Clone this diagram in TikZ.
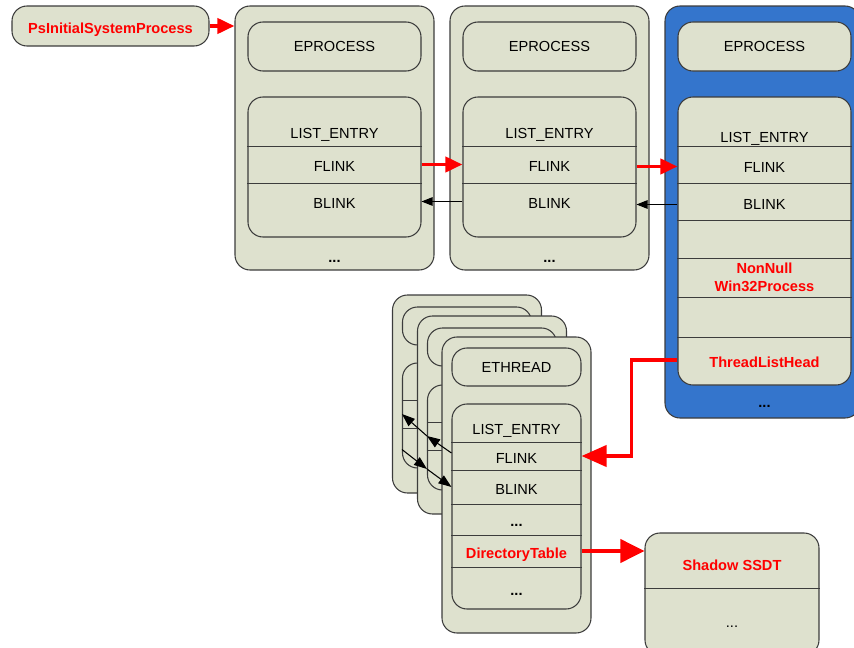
\documentclass[tikz,border=0pt]{standalone}
\usepackage{fontspec}
\setmainfont{Liberation Sans}
\usetikzlibrary{arrows.meta}
\definecolor{boxfill}{RGB}{222,225,206}
\definecolor{procblue}{RGB}{52,117,204}
\definecolor{rimgray}{RGB}{60,60,60}

\begin{document}
\begin{tikzpicture}[line width = 0.6pt, font = \fontsize{8.3}{10}\selectfont,
                    card/.style = {draw = rimgray, fill = boxfill, rounded corners = 0.3cm, inner sep = 0pt},
                    lowtext/.style = {text height = 8.1pt, text depth = 0pt},
                    field/.style = {inner sep = 0pt, minimum width = #1, lowtext},
                    hot/.style = {text = red, font = \fontsize{8.3}{10}\selectfont\bfseries},
                    redlink/.style = {draw = red, line width = 2.2pt, -{Triangle[length = 0.34cm, width = 0.3cm]}},
                    thinlink/.style = {draw = black, -{Triangle[length = 0.22cm, width = 0.17cm]}}]
      \useasboundingbox (0, 0) rectangle (17.08, -12.96);
      \clip (0, 0) rectangle (17.08, -12.96);

      \node [card, hot, lowtext, minimum width = 3.94cm, minimum height = 0.8cm] (ps) at (2.21, -0.52) {PsInitialSystemProcess};

      % first EPROCESS
      \node [card, minimum width = 3.98cm, minimum height = 5.28cm] (ep1) at (6.69, -2.76) {};
      \node [card, minimum width = 3.46cm, minimum height = 0.98cm] (hd1) at (6.69, -0.93) {EPROCESS};
      \node [card, minimum width = 3.46cm, minimum height = 2.8cm] (ls1) at (6.69, -3.34) {};
      \node [field = 3.46cm, minimum height = 0.6cm] (le1) at (6.69, -2.62) {LIST\_ENTRY};
      \node [field = 3.46cm, minimum height = 0.74cm] (fl1) at (6.69, -3.29) {FLINK};
      \node [field = 3.46cm, minimum height = 0.74cm] (bl1) at (6.69, -4.03) {BLINK};
      \draw [rimgray] (le1.south west) -- (le1.south east) (fl1.south west) -- (fl1.south east);
      \node [lowtext] (mo1) at (6.69, -5.1) {\textbf{...}};

      % second EPROCESS
      \node [card, minimum width = 3.98cm, minimum height = 5.28cm] (ep2) at (10.99, -2.76) {};
      \node [card, minimum width = 3.46cm, minimum height = 0.98cm] (hd2) at (10.99, -0.93) {EPROCESS};
      \node [card, minimum width = 3.46cm, minimum height = 2.8cm] (ls2) at (10.99, -3.34) {};
      \node [field = 3.46cm, minimum height = 0.6cm] (le2) at (10.99, -2.62) {LIST\_ENTRY};
      \node [field = 3.46cm, minimum height = 0.74cm] (fl2) at (10.99, -3.29) {FLINK};
      \node [field = 3.46cm, minimum height = 0.74cm] (bl2) at (10.99, -4.03) {BLINK};
      \draw [rimgray] (le2.south west) -- (le2.south east) (fl2.south west) -- (fl2.south east);
      \node [lowtext] (mo2) at (10.99, -5.1) {\textbf{...}};

      % third EPROCESS (the one with a Win32Process)
      \node [card, fill = procblue, minimum width = 3.9cm, minimum height = 8.24cm] (ep3) at (15.25, -4.24) {};
      \node [card, minimum width = 3.46cm, minimum height = 0.98cm] (hd3) at (15.29, -0.93) {EPROCESS};
      \node [card, minimum width = 3.46cm, minimum height = 5.76cm] (ls3) at (15.29, -4.82) {};
      \node [field = 3.46cm, minimum height = 0.48cm, text height = 9.6pt] (le3) at (15.29, -2.68) {LIST\_ENTRY};
      \node [field = 3.46cm, minimum height = 0.74cm, text height = 9.6pt] (fl3) at (15.29, -3.29) {FLINK};
      \node [field = 3.46cm, minimum height = 0.74cm, text height = 9.6pt] (bl3) at (15.29, -4.03) {BLINK};
      \node [field = 3.46cm, minimum height = 0.76cm] (em3) at (15.29, -4.78) {};
      \node [hot, inner sep = 0pt, minimum width = 3.46cm, minimum height = 0.74cm, align = center] (nn3) at (15.29, -5.55) {NonNull\\Win32Process};
      \node [field = 3.46cm, minimum height = 0.84cm] (eb3) at (15.29, -6.32) {};
      \node [field = 3.46cm, minimum height = 0.92cm, hot] (tl3) at (15.29, -7.2) {ThreadListHead};
      \draw [rimgray] (le3.south west) -- (le3.south east) (fl3.south west) -- (fl3.south east)
                      (bl3.south west) -- (bl3.south east) (em3.south west) -- (em3.south east)
                      ([yshift = -0.02cm]nn3.south west) -- ([yshift = -0.02cm]nn3.south east)
                      (eb3.south west) -- (eb3.south east);
      \node [lowtext] (mo3) at (15.29, -8.0) {\textbf{...}};

      \draw [redlink] (ps.east) -- (ps.east -| ep1.west);
      \draw [redlink] (fl1.east) -- (fl2.west);
      \draw [redlink] ([yshift = -0.04cm]fl2.east) -- ([yshift = -0.04cm]fl3.west);
      \draw [thinlink] (bl2.west) -- (bl1.east);
      \draw [thinlink] ([yshift = -0.06cm]bl3.west) -- ([yshift = -0.06cm]bl2.east);

      % ETHREAD stack, back to front
      \node [card, minimum width = 2.98cm, minimum height = 3.96cm] (thb) at (9.34, -7.88) {};
      \node [card, minimum width = 2.58cm, minimum height = 0.76cm] (hdb) at (9.34, -6.52) {};
      \node [card, minimum width = 2.58cm, minimum height = 2.1cm] (lsb) at (9.34, -8.31) {};
      \node [field = 2.58cm, minimum height = 0.6cm] (leb) at (9.34, -7.7) {};
      \node [field = 2.58cm, minimum height = 0.56cm] (flb) at (9.34, -8.28) {};
      \node [field = 2.58cm, minimum height = 0.56cm] (blb) at (9.34, -8.84) {};
      \draw [rimgray] (leb.south west) -- (leb.south east) (flb.south west) -- (flb.south east);

      \node [card, minimum width = 2.98cm, minimum height = 3.96cm] (thm) at (9.84, -8.3) {};
      \node [card, minimum width = 2.58cm, minimum height = 0.76cm] (hdm) at (9.84, -6.94) {};
      \node [card, minimum width = 2.58cm, minimum height = 2.1cm] (lsm) at (9.84, -8.75) {};
      \node [field = 2.58cm, minimum height = 0.6cm] (lem) at (9.84, -8.14) {};
      \node [field = 2.58cm, minimum height = 0.56cm] (flm) at (9.84, -8.72) {};
      \node [field = 2.58cm, minimum height = 0.56cm] (blm) at (9.84, -9.28) {};
      \draw [rimgray] (lem.south west) -- (lem.south east) (flm.south west) -- (flm.south east);

      \node [card, minimum width = 2.98cm, minimum height = 5.92cm] (thf) at (10.33, -9.7) {};
      \node [card, minimum width = 2.58cm, minimum height = 0.76cm] (hdf) at (10.33, -7.34) {ETHREAD};
      \node [card, minimum width = 2.58cm, minimum height = 4.1cm] (lsf) at (10.33, -10.13) {};
      \node [field = 2.58cm, minimum height = 0.6cm] (lef) at (10.33, -8.54) {LIST\_ENTRY};
      \node [field = 2.58cm, minimum height = 0.56cm] (flf) at (10.33, -9.12) {FLINK};
      \node [field = 2.58cm, minimum height = 0.68cm] (blf) at (10.33, -9.74) {BLINK};
      \node [field = 2.58cm, minimum height = 0.62cm] (d1f) at (10.33, -10.39) {\textbf{...}};
      \node [field = 2.58cm, minimum height = 0.64cm, hot] (dtf) at (10.33, -11.02) {DirectoryTable};
      \node [field = 2.58cm, minimum height = 0.84cm] (d2f) at (10.33, -11.76) {\textbf{...}};
      \draw [rimgray] (lef.south west) -- (lef.south east) (flf.south west) -- (flf.south east)
                      (blf.south west) -- (blf.south east) (d1f.south west) -- (d1f.south east)
                      (dtf.south west) -- (dtf.south east);

      \draw [thinlink, -{Triangle[length = 0.26cm, width = 0.19cm]}] ([yshift = 0.06cm]flf.west) -- (flm.west);
      \draw [thinlink, -{Triangle[length = 0.26cm, width = 0.19cm]}] (flm.west) -- (flb.west);
      \draw [thinlink, -{Triangle[length = 0.26cm, width = 0.19cm]}] ([yshift = -0.15cm]blb.west) -- ([yshift = -0.1cm]blm.west);
      \draw [thinlink, -{Triangle[length = 0.26cm, width = 0.19cm]}] ([yshift = -0.1cm]blm.west) -- (blf.west);

      \draw [redlink, -{Triangle[length = 0.5cm, width = 0.42cm]}] (tl3.west) -- ++(-0.92, 0) |- (flf.east);

      % shadow table
      \node [card, minimum width = 3.48cm, minimum height = 2.44cm] (ssdt) at (14.64, -11.88) {};
      \node [field = 3.48cm, minimum height = 1.0cm, hot] (sh) at (14.64, -11.26) {Shadow SSDT};
      \draw [rimgray] (sh.south west) -- (sh.south east);
      \node [lowtext] (mo5) at (14.64, -12.4) {...};

      \draw [redlink, -{Triangle[length = 0.48cm, width = 0.46cm]}] (dtf.east) -- (dtf.east -| ssdt.west);

      \end{tikzpicture}
\end{document}
